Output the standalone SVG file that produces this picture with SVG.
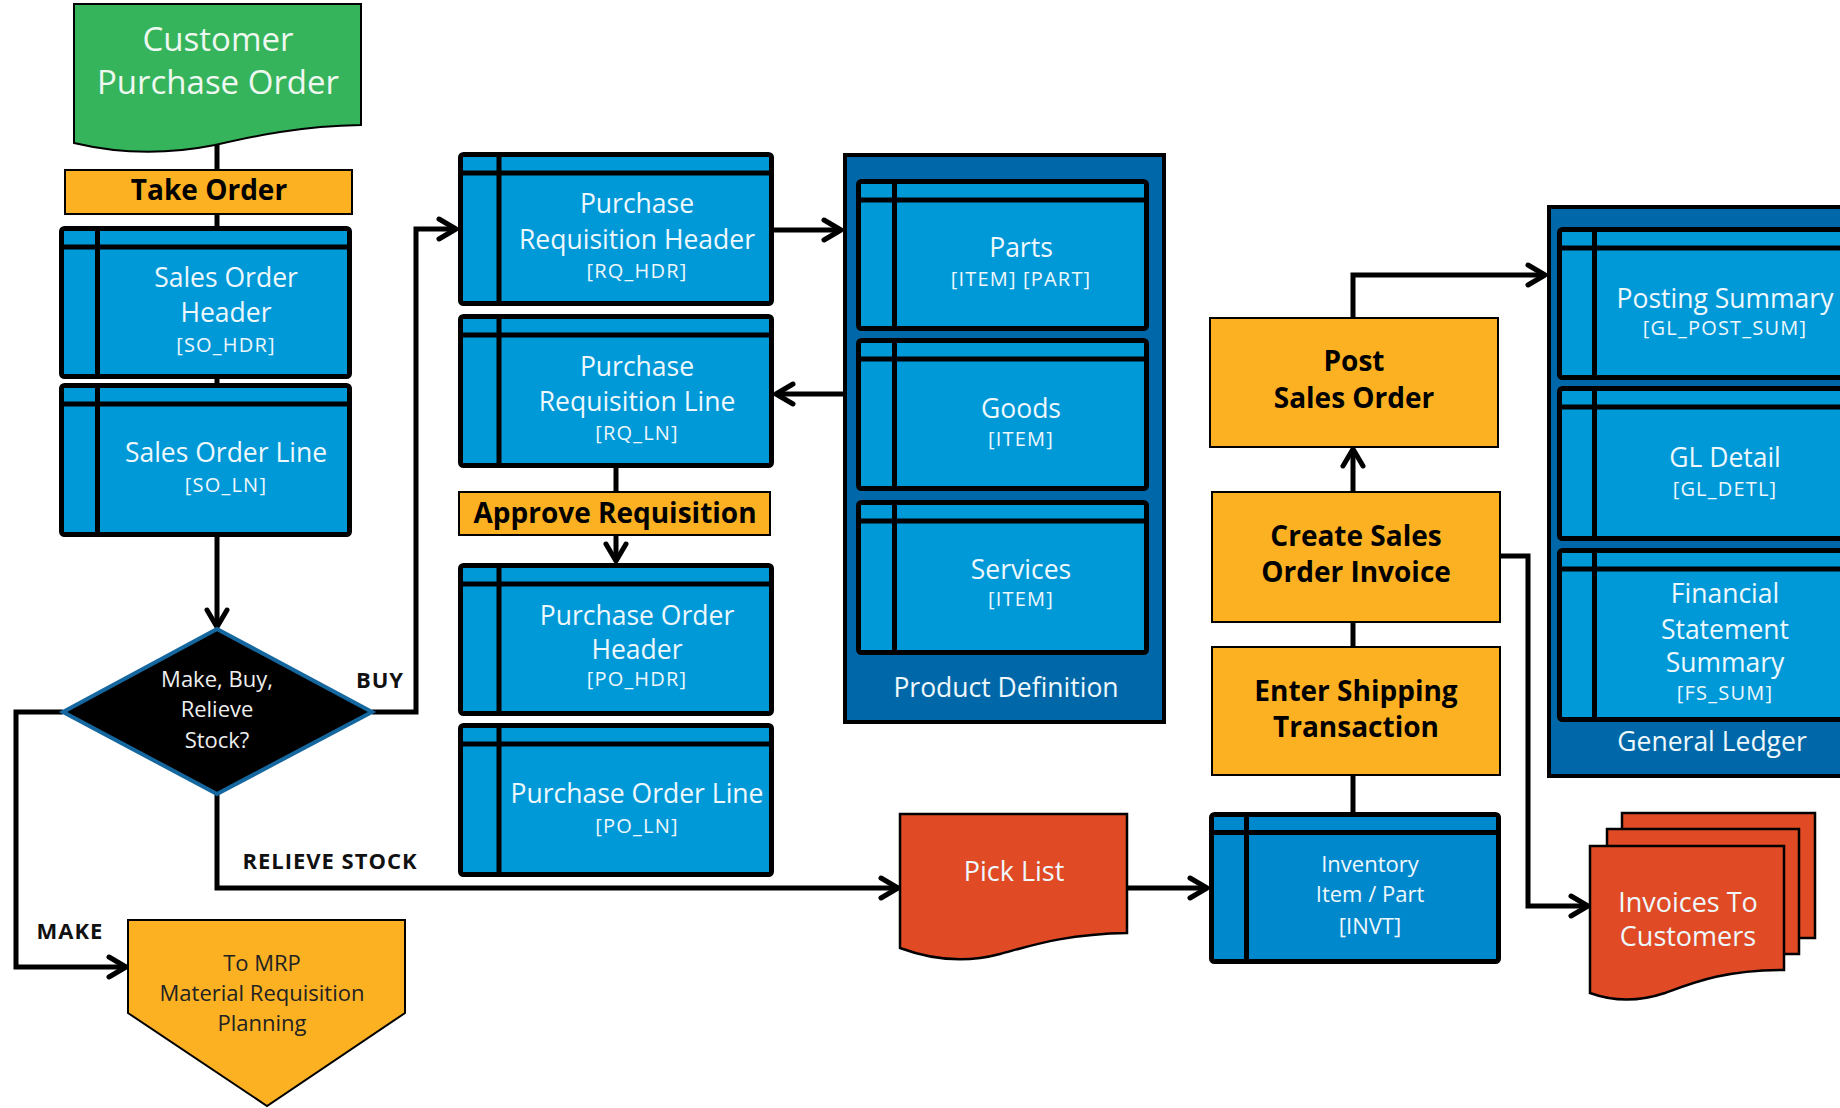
<svg xmlns="http://www.w3.org/2000/svg" width="1840" height="1108" viewBox="0 0 1840 1108">
<defs>
<style>
text{font-family:"Open Sans","Noto Sans","Liberation Sans",sans-serif;text-anchor:middle;dominant-baseline:central}
.tb{fill:#0099D8;stroke:#000;stroke-width:5}
.tbi{fill:#0088CD;stroke:#000;stroke-width:5}
.dv{stroke:#000;stroke-width:5}
.cont{fill:#0068A8;stroke:#000;stroke-width:4}
.proc{fill:#FBB122;stroke:#000;stroke-width:2}
.doc{fill:#E04B26;stroke:#000;stroke-width:2.5}
.wt{fill:#EEF8FD;font-size:26.5px}
.wc{fill:#EEF8FD;font-size:20px;letter-spacing:1.2px}
.ws{fill:#EEF8FD;font-size:22px}
.bt{fill:#000;font-size:28px;font-weight:bold}
.lb{fill:#111;font-size:22px;font-weight:bold;letter-spacing:1px}
.dt{fill:#EEE;font-size:22px}
.mt{fill:#222;font-size:22px}
.conn{fill:none;stroke:#000;stroke-width:5;stroke-linejoin:miter}
</style>
<marker id="arr" markerUnits="userSpaceOnUse" markerWidth="30" markerHeight="30" refX="23" refY="14" orient="auto">
<path d="M6,4 L23,14 L6,24" fill="none" stroke="#000" stroke-width="5" stroke-linecap="round" stroke-linejoin="round"/>
</marker>
</defs>
<rect width="1840" height="1108" fill="#fff"/>

<g id="connectors">
<path class="conn" d="M217,138 V170"/>
<path class="conn" d="M217,214 V226"/>
<path class="conn" d="M217,379 V383"/>
<path class="conn" d="M217,537 V627" marker-end="url(#arr)"/>
<path class="conn" d="M372,712 H416 V229 H456" marker-end="url(#arr)"/>
<path class="conn" d="M63,712 H16 V967 H126" marker-end="url(#arr)"/>
<path class="conn" d="M217,794 V888 H898" marker-end="url(#arr)"/>
<path class="conn" d="M774,230 H841" marker-end="url(#arr)"/>
<path class="conn" d="M843,394 H776" marker-end="url(#arr)"/>
<path class="conn" d="M616,468 V492"/>
<path class="conn" d="M616,535 V561" marker-end="url(#arr)"/>
<path class="conn" d="M1127,888 H1207" marker-end="url(#arr)"/>
<path class="conn" d="M1353,775 V812"/>
<path class="conn" d="M1353,622 V647"/>
<path class="conn" d="M1353,492 V449" marker-end="url(#arr)"/>
<path class="conn" d="M1353,318 V275 H1545" marker-end="url(#arr)"/>
<path class="conn" d="M1500,556 H1528 V906 H1588" marker-end="url(#arr)"/>
</g>

<g id="customer-po">
<path d="M74,4 H361 V125 C300,126 255,136 215,145 C170,154 120,154 74,143 Z" fill="#36B45B" stroke="#000" stroke-width="2"/>
<text x="218" y="38" style="fill:#EEF8F0;font-size:33px">Customer</text>
<text x="218" y="81" style="fill:#EEF8F0;font-size:33px">Purchase Order</text>
</g>

<g id="take-order">
<rect class="proc" x="65" y="170" width="287" height="44"/>
<text class="bt" x="209" y="189">Take Order</text>
</g>

<g id="so-header">
<rect class="tb" x="61.5" y="228.5" width="288" height="148" rx="3"/>
<line class="dv" x1="59" y1="247" x2="352" y2="247"/>
<line class="dv" x1="97.5" y1="226" x2="97.5" y2="379"/>
<text class="wt" x="226" y="277">Sales Order</text>
<text class="wt" x="226" y="312">Header</text>
<text class="wc" x="226" y="344">[SO_HDR]</text>
</g>

<g id="so-line">
<rect class="tb" x="61.5" y="385.5" width="288" height="149" rx="3"/>
<line class="dv" x1="59" y1="404" x2="352" y2="404"/>
<line class="dv" x1="97.5" y1="383" x2="97.5" y2="537"/>
<text class="wt" x="226" y="452">Sales Order Line</text>
<text class="wc" x="226" y="484">[SO_LN]</text>
</g>

<g id="decision">
<polygon points="217,629 372,712 217,794 63,712" fill="#000" stroke="#15679F" stroke-width="4"/>
<text class="dt" x="217" y="678">Make, Buy,</text>
<text class="dt" x="217" y="708">Relieve</text>
<text class="dt" x="217" y="739">Stock?</text>
</g>

<g id="labels">
<text class="lb" x="380" y="679">BUY</text>
<text class="lb" x="70" y="930">MAKE</text>
<text class="lb" x="330" y="860">RELIEVE STOCK</text>
</g>

<g id="mrp">
<path d="M128,920 H405 V1013 L267,1106 L128,1013 Z" fill="#FBB122" stroke="#000" stroke-width="2"/>
<text class="mt" x="262" y="962">To MRP</text>
<text class="mt" x="262" y="992">Material Requisition</text>
<text class="mt" x="262" y="1022">Planning</text>
</g>

<g id="pr-header">
<rect class="tb" x="460.5" y="154.5" width="311" height="149" rx="3"/>
<line class="dv" x1="458" y1="173" x2="774" y2="173"/>
<line class="dv" x1="499" y1="152" x2="499" y2="306"/>
<text class="wt" x="637" y="203">Purchase</text>
<text class="wt" x="637" y="239">Requisition Header</text>
<text class="wc" x="637" y="270">[RQ_HDR]</text>
</g>

<g id="pr-line">
<rect class="tb" x="460.5" y="316.5" width="311" height="149" rx="3"/>
<line class="dv" x1="458" y1="335" x2="774" y2="335"/>
<line class="dv" x1="499" y1="314" x2="499" y2="468"/>
<text class="wt" x="637" y="366">Purchase</text>
<text class="wt" x="637" y="401">Requisition Line</text>
<text class="wc" x="637" y="432">[RQ_LN]</text>
</g>

<g id="approve-requisition">
<rect class="proc" x="459" y="492" width="311" height="43"/>
<text class="bt" x="615" y="512">Approve Requisition</text>
</g>

<g id="po-header">
<rect class="tb" x="460.5" y="565.5" width="311" height="148" rx="3"/>
<line class="dv" x1="458" y1="584" x2="774" y2="584"/>
<line class="dv" x1="499" y1="563" x2="499" y2="716"/>
<text class="wt" x="637" y="615">Purchase Order</text>
<text class="wt" x="637" y="649">Header</text>
<text class="wc" x="637" y="678">[PO_HDR]</text>
</g>

<g id="po-line">
<rect class="tb" x="460.5" y="725.5" width="311" height="149" rx="3"/>
<line class="dv" x1="458" y1="744" x2="774" y2="744"/>
<line class="dv" x1="499" y1="723" x2="499" y2="877"/>
<text class="wt" x="637" y="793">Purchase Order Line</text>
<text class="wc" x="637" y="825">[PO_LN]</text>
</g>

<g id="product-definition">
<rect class="cont" x="845" y="155" width="319" height="567"/>
<text class="wt" x="1006" y="687">Product Definition</text>
<g id="parts">
<rect class="tb" x="858.5" y="181.5" width="288" height="147" rx="3"/>
<line class="dv" x1="856" y1="200" x2="1149" y2="200"/>
<line class="dv" x1="894.5" y1="179" x2="894.5" y2="331"/>
<text class="wt" x="1021" y="247">Parts</text>
<text class="wc" x="1021" y="278">[ITEM] [PART]</text>
</g>
<g id="goods">
<rect class="tb" x="858.5" y="340.5" width="288" height="148" rx="3"/>
<line class="dv" x1="856" y1="359" x2="1149" y2="359"/>
<line class="dv" x1="894.5" y1="338" x2="894.5" y2="491"/>
<text class="wt" x="1021" y="408">Goods</text>
<text class="wc" x="1021" y="438">[ITEM]</text>
</g>
<g id="services">
<rect class="tb" x="858.5" y="502.5" width="288" height="150" rx="3"/>
<line class="dv" x1="856" y1="521" x2="1149" y2="521"/>
<line class="dv" x1="894.5" y1="500" x2="894.5" y2="655"/>
<text class="wt" x="1021" y="569">Services</text>
<text class="wc" x="1021" y="598">[ITEM]</text>
</g>
</g>

<g id="pick-list">
<path class="doc" d="M900,814 H1127 V933 C1065,934 1030,946 1000,954 C970,962 935,961 900,948 Z"/>
<text class="wt" x="1014" y="870" style="font-size:27px">Pick List</text>
</g>

<g id="inventory">
<rect class="tbi" x="1211.5" y="814.5" width="287" height="147" rx="3"/>
<line class="dv" x1="1209" y1="832.5" x2="1501" y2="832.5"/>
<line class="dv" x1="1246.5" y1="812" x2="1246.5" y2="964"/>
<text class="ws" x="1370" y="863">Inventory</text>
<text class="ws" x="1370" y="893">Item / Part</text>
<text class="ws" x="1370" y="925">[INVT]</text>
</g>

<g id="enter-shipping">
<rect class="proc" x="1212" y="647" width="288" height="128"/>
<text class="bt" x="1356" y="690">Enter Shipping</text>
<text class="bt" x="1356" y="726">Transaction</text>
</g>

<g id="create-invoice">
<rect class="proc" x="1212" y="492" width="288" height="130"/>
<text class="bt" x="1356" y="535">Create Sales</text>
<text class="bt" x="1356" y="571">Order Invoice</text>
</g>

<g id="post-sales-order">
<rect class="proc" x="1210" y="318" width="288" height="129"/>
<text class="bt" x="1354" y="360">Post</text>
<text class="bt" x="1354" y="397">Sales Order</text>
</g>

<g id="general-ledger">
<rect class="cont" x="1549" y="207" width="330" height="569"/>
<text class="wt" x="1712" y="741">General Ledger</text>
<g id="posting-summary">
<rect class="tb" x="1559.5" y="229.5" width="315" height="148" rx="3"/>
<line class="dv" x1="1557" y1="248" x2="1880" y2="248"/>
<line class="dv" x1="1594.5" y1="227" x2="1594.5" y2="380"/>
<text class="wt" x="1725" y="298">Posting Summary</text>
<text class="wc" x="1725" y="327">[GL_POST_SUM]</text>
</g>
<g id="gl-detail">
<rect class="tb" x="1559.5" y="388.5" width="315" height="150" rx="3"/>
<line class="dv" x1="1557" y1="407" x2="1880" y2="407"/>
<line class="dv" x1="1594.5" y1="386" x2="1594.5" y2="541"/>
<text class="wt" x="1725" y="457">GL Detail</text>
<text class="wc" x="1725" y="488">[GL_DETL]</text>
</g>
<g id="fs-summary">
<rect class="tb" x="1559.5" y="550.5" width="315" height="169" rx="3"/>
<line class="dv" x1="1557" y1="569" x2="1880" y2="569"/>
<line class="dv" x1="1594.5" y1="548" x2="1594.5" y2="722"/>
<text class="wt" x="1725" y="593">Financial</text>
<text class="wt" x="1725" y="629">Statement</text>
<text class="wt" x="1725" y="662">Summary</text>
<text class="wc" x="1725" y="692">[FS_SUM]</text>
</g>
</g>

<g id="invoices">
<rect class="doc" x="1622" y="813" width="193" height="125"/>
<rect class="doc" x="1607" y="829" width="192" height="125"/>
<path class="doc" d="M1590,846 H1784 V970 C1725,970 1695,982 1665,993 C1638,1002 1612,1001 1590,993 Z"/>
<text class="wt" x="1688" y="901" style="font-size:27px">Invoices To</text>
<text class="wt" x="1688" y="935" style="font-size:27px">Customers</text>
</g>
</svg>
